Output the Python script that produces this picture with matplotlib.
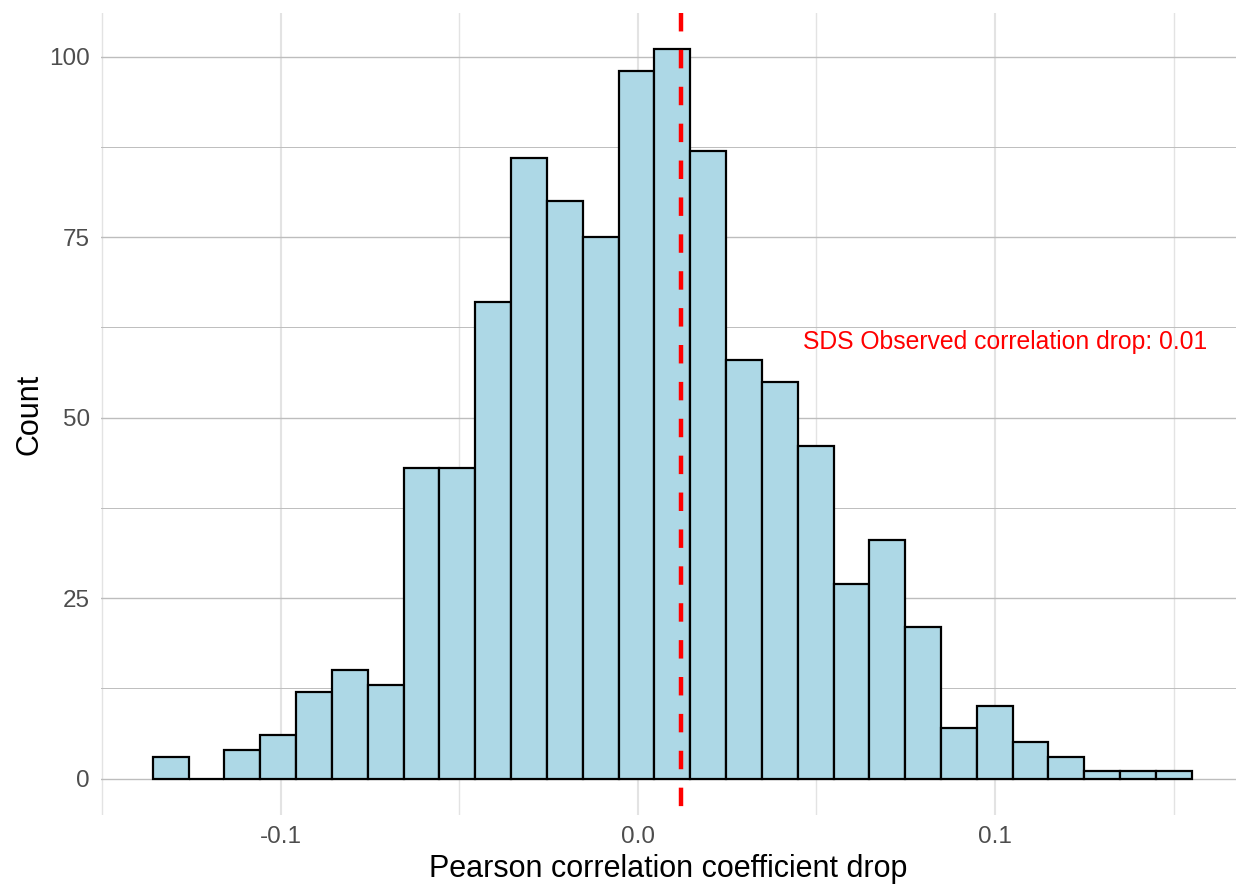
import numpy as np
import matplotlib.pyplot as plt

# histogram of correlation drops from the permutation runs
bin_start = -0.1359
bin_width = 0.010035
counts = [3, 0, 4, 6, 12, 15, 13, 43, 43, 66, 86, 80, 75, 98, 101,
          87, 58, 55, 46, 27, 33, 21, 7, 10, 5, 3, 1, 1, 1]
observed_drop = 0.012
label_text = "SDS Observed correlation drop: 0.01"
x_ticks = [-0.1, 0.0, 0.1]
x_tick_labels = ["-0.1", "0.0", "0.1"]
y_ticks = [0, 25, 50, 75, 100]

plt.rcParams['font.family'] = ['Liberation Sans', 'DejaVu Sans']

fig = plt.figure(figsize=(12.36, 8.88), dpi=100)
W, H = 1236, 888
ax = fig.add_axes([101 / W, 1 - 815 / H, (1236 - 101) / W, (815 - 13) / H])
y_lo, y_hi = -5.05, 106.05

left_edges = bin_start + bin_width * np.arange(len(counts))
ax.bar(left_edges, counts, width=bin_width, align='edge',
       color='#ADD8E6', edgecolor='black', linewidth=1.6, zorder=3)

# dashed marker for the observed value, drawn top to bottom
ax.plot([observed_drop, observed_drop], [y_hi, y_lo], color='red',
        linestyle=(0, (4.15, 4.15)), linewidth=3.2, zorder=4)
ax.text(0.1028, 60.5, label_text, color='red', fontsize=17.8,
        ha='center', va='center', zorder=5)

ax.set_xlim(-0.1504, 0.1675)
ax.set_ylim(y_lo, y_hi)

# theme_minimal-ish grid
for xv in [-0.15, -0.1, -0.05, 0.0, 0.05, 0.1, 0.15]:
    ax.axvline(xv, color='#e3e3e3', linewidth=1.5 if xv in x_ticks else 1.0, zorder=1)
for yv in [0, 12.5, 25, 37.5, 50, 62.5, 75, 87.5, 100]:
    ax.axhline(yv, color='#bdbdbd', linewidth=1.0 if yv in y_ticks else 0.7, zorder=1)

ax.set_xticks(x_ticks)
ax.set_xticklabels(x_tick_labels)
ax.set_yticks(y_ticks)
ax.tick_params(length=0, labelsize=17.5, colors='#4d4d4d', pad=8)
for s in ax.spines.values():
    s.set_visible(False)

ax.set_xlabel("Pearson correlation coefficient drop", fontsize=22, labelpad=4)
ax.set_ylabel("Count", fontsize=22, labelpad=3)

fig.savefig("out.png", dpi=100)
